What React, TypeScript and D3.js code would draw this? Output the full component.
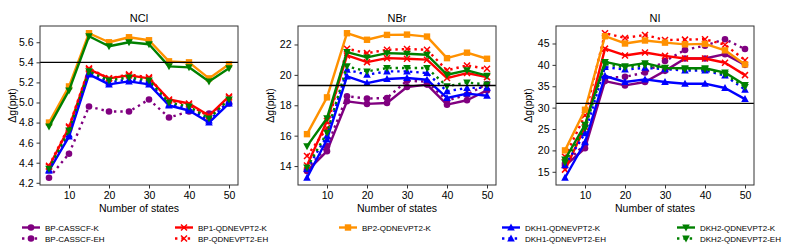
import React, { useEffect, useRef } from 'react';
import * as d3 from 'd3';

// x values (number of states)
const states = [5, 10, 15, 20, 25, 30, 35, 40, 45, 50];
const xTicks = [10, 20, 30, 40, 50];

// NCl
const nclCasscfEH = [4.25, 4.49, 4.96, 4.91, 4.91, 5.03, 4.85, 4.91, 4.89, 4.99];
const nclBP1K = [4.36, 4.75, 5.33, 5.24, 5.27, 5.24, 5.03, 4.99, 4.87, 5.06];
const nclBPEH = [4.37, 4.76, 5.34, 5.24, 5.28, 5.25, 5.02, 4.98, 4.86, 5.05];
const nclBP2K = [4.80, 5.16, 5.69, 5.60, 5.65, 5.62, 5.41, 5.40, 5.24, 5.38];
const nclDKH1K = [4.32, 4.66, 5.28, 5.18, 5.21, 5.18, 4.97, 4.92, 4.80, 4.99];
const nclDKH1EH = [4.33, 4.68, 5.30, 5.20, 5.23, 5.20, 4.98, 4.94, 4.82, 5.01];
const nclDKH2K = [4.76, 5.12, 5.66, 5.56, 5.60, 5.58, 5.36, 5.35, 5.21, 5.34];
const nclDKH2EH = [4.34, 4.72, 5.31, 5.22, 5.25, 5.22, 5.00, 4.96, 4.84, 5.03];
const nclRef = 5.4;

// NBr
const nbrCasscfK = [13.67, 14.98, 18.26, 18.09, 18.15, 19.20, 19.36, 18.04, 18.33, 18.98];
const nbrCasscfEH = [13.75, 15.30, 18.59, 18.44, 18.48, 19.62, 19.55, 18.30, 18.70, 19.40];
const nbrBP1K = [14.04, 16.96, 21.28, 20.84, 21.10, 21.06, 21.00, 19.79, 20.12, 19.85];
const nbrBPEH = [14.66, 16.50, 21.72, 21.43, 21.65, 21.70, 21.65, 20.30, 20.62, 20.40];
const nbrBP2K = [16.10, 18.52, 22.74, 22.31, 22.63, 22.65, 22.52, 21.10, 21.46, 21.06];
const nbrDKH1K = [13.23, 15.75, 19.90, 19.46, 19.73, 19.79, 19.68, 18.48, 18.77, 18.63];
const nbrDKH1EH = [13.80, 16.00, 20.34, 20.01, 20.23, 20.23, 20.12, 18.92, 19.14, 19.15];
const nbrDKH2K = [15.31, 17.15, 21.50, 21.15, 21.43, 21.39, 21.32, 20.01, 20.30, 19.95];
const nbrDKH2EH = [13.90, 16.20, 20.56, 20.23, 20.45, 20.45, 20.45, 19.25, 19.50, 19.36];
const nbrRef = 19.3;

// NI
const niCasscfK = [16.4, 20.5, 36.2, 35.2, 36.0, 38.6, 41.5, 41.5, 42.5, 40.0];
const niCasscfEH = [16.9, 21.5, 37.0, 37.2, 38.2, 40.9, 43.5, 44.5, 46.0, 43.7];
const niBP1K = [15.5, 25.5, 43.8, 42.2, 42.9, 42.1, 41.5, 41.5, 40.5, 37.6];
const niBPEH = [18.5, 28.2, 47.4, 46.3, 47.0, 45.8, 45.9, 46.0, 44.7, 41.1];
const niBP2K = [20.0, 29.5, 46.7, 45.0, 45.7, 45.2, 44.8, 44.9, 43.4, 40.1];
const niDKH1K = [13.6, 21.9, 37.4, 36.0, 36.6, 36.0, 35.6, 35.6, 34.6, 32.0];
const niDKH1EH = [16.5, 24.0, 39.5, 38.9, 39.3, 39.0, 38.7, 38.7, 37.5, 34.2];
const niDKH2K = [17.9, 26.0, 40.7, 39.7, 40.4, 39.3, 39.2, 39.2, 38.2, 35.3];
const niDKH2EH = [17.2, 25.2, 40.2, 39.4, 39.9, 39.2, 39.0, 39.0, 37.8, 34.8];
const niRef = 31.0;

const series = [
  { key: 'casscfK', label: 'BP-CASSCF-K', color: '#800080', marker: 'circle', dotted: false },
  { key: 'casscfEH', label: 'BP-CASSCF-EH', color: '#800080', marker: 'circle', dotted: true },
  { key: 'bp1K', label: 'BP1-QDNEVPT2-K', color: '#ff0000', marker: 'x', dotted: false },
  { key: 'bpEH', label: 'BP-QDNEVPT2-EH', color: '#ff0000', marker: 'x', dotted: true },
  { key: 'bp2K', label: 'BP2-QDNEVPT2-K', color: '#ff9100', marker: 'square', dotted: false },
  { key: 'dkh1K', label: 'DKH1-QDNEVPT2-K', color: '#0000ff', marker: 'up', dotted: false },
  { key: 'dkh1EH', label: 'DKH1-QDNEVPT2-EH', color: '#0000ff', marker: 'up', dotted: true },
  { key: 'dkh2K', label: 'DKH2-QDNEVPT2-K', color: '#008000', marker: 'down', dotted: false },
  { key: 'dkh2EH', label: 'DKH2-QDNEVPT2-EH', color: '#008000', marker: 'down', dotted: true },
];

const panels = [
  {
    title: 'NCl', left: 40, yTicks: [4.2, 4.4, 4.6, 4.8, 5.0, 5.2, 5.4, 5.6], fmt: d3.format('.1f'), ref: nclRef,
    data: { casscfEH: nclCasscfEH, bp1K: nclBP1K, bpEH: nclBPEH, bp2K: nclBP2K, dkh1K: nclDKH1K, dkh1EH: nclDKH1EH, dkh2K: nclDKH2K, dkh2EH: nclDKH2EH },
  },
  {
    title: 'NBr', left: 298, yTicks: [14, 16, 18, 20, 22], fmt: d3.format('d'), ref: nbrRef,
    data: { casscfK: nbrCasscfK, casscfEH: nbrCasscfEH, bp1K: nbrBP1K, bpEH: nbrBPEH, bp2K: nbrBP2K, dkh1K: nbrDKH1K, dkh1EH: nbrDKH1EH, dkh2K: nbrDKH2K, dkh2EH: nbrDKH2EH },
  },
  {
    title: 'NI', left: 556, yTicks: [15, 20, 25, 30, 35, 40, 45], fmt: d3.format('d'), ref: niRef,
    data: { casscfK: niCasscfK, casscfEH: niCasscfEH, bp1K: niBP1K, bpEH: niBPEH, bp2K: niBP2K, dkh1K: niDKH1K, dkh1EH: niDKH1EH, dkh2K: niDKH2K, dkh2EH: niDKH2EH },
  },
];

// legend slots: [x of line start, row]
const legendPos: Record<string, [number, number]> = {
  casscfK: [22, 0], casscfEH: [22, 1],
  bp1K: [175, 0], bpEH: [175, 1],
  bp2K: [339, 0],
  dkh1K: [502, 0], dkh1EH: [502, 1],
  dkh2K: [677, 0], dkh2EH: [677, 1],
};

const FONT = '"Liberation Sans", Arial, sans-serif';
const LW = 2.4;

function drawMarker(g: any, kind: string, x: number, y: number, color: string) {
  if (kind === 'circle') {
    g.append('circle').attr('cx', x).attr('cy', y).attr('r', 3.3).attr('fill', color);
  } else if (kind === 'square') {
    g.append('rect').attr('x', x - 3.2).attr('y', y - 3.2).attr('width', 6.4).attr('height', 6.4).attr('fill', color);
  } else if (kind === 'up') {
    g.append('path').attr('d', `M${x},${y - 4}L${x + 3.8},${y + 3}L${x - 3.8},${y + 3}Z`).attr('fill', color);
  } else if (kind === 'down') {
    g.append('path').attr('d', `M${x},${y + 4}L${x + 3.8},${y - 3}L${x - 3.8},${y - 3}Z`).attr('fill', color);
  } else {
    g.append('path').attr('d', `M${x - 3},${y - 3}L${x + 3},${y + 3}M${x - 3},${y + 3}L${x + 3},${y - 3}`)
      .attr('stroke', color).attr('stroke-width', 1.5).attr('fill', 'none');
  }
}

const App = () => {
  const svgRef = useRef<SVGSVGElement>(null);

  useEffect(() => {
    const svg = d3.select(svgRef.current);
    svg.selectAll('*').remove();

    const width = 198;
    const top = 26;
    const bottom = 185;

    panels.forEach((p) => {
      const x = d3.scaleLinear().domain([2.75, 52.25]).range([p.left, p.left + width]);
      const vals = Object.values(p.data).flat() as number[];
      const [lo, hi] = d3.extent(vals) as [number, number];
      const pad = (hi - lo) * 0.05;
      const y = d3.scaleLinear().domain([lo - pad, hi + pad]).range([bottom, top]);

      const g = svg.append('g');
      const clipId = `clip-${p.title}`;
      svg.append('clipPath').attr('id', clipId)
        .append('rect').attr('x', p.left).attr('y', top).attr('width', width).attr('height', bottom - top);

      const plot = g.append('g').attr('clip-path', `url(#${clipId})`);

      series.forEach((s) => {
        const values = (p.data as any)[s.key] as number[] | undefined;
        if (!values) return;
        const pts = states.map((st, i) => [x(st), y(values[i])] as [number, number]);
        plot.append('path')
          .attr('d', d3.line()(pts))
          .attr('fill', 'none')
          .attr('stroke', s.color)
          .attr('stroke-width', LW)
          .attr('stroke-linejoin', 'round')
          .attr('stroke-dasharray', s.dotted ? `${LW} ${LW * 1.65}` : null);
        pts.forEach(([px, py]) => drawMarker(plot, s.marker, px, py, s.color));
      });

      // reference line
      plot.append('line')
        .attr('x1', p.left).attr('x2', p.left + width)
        .attr('y1', y(p.ref)).attr('y2', y(p.ref))
        .attr('stroke', '#000').attr('stroke-width', 1.3);

      // frame
      g.append('rect')
        .attr('x', p.left).attr('y', top).attr('width', width).attr('height', bottom - top)
        .attr('fill', 'none').attr('stroke', '#333').attr('stroke-width', 1);

      const xAxis = g.append('g')
        .attr('transform', `translate(0,${bottom})`)
        .call(d3.axisBottom(x).tickValues(xTicks).tickSize(3.5).tickPadding(3));
      const yAxis = g.append('g')
        .attr('transform', `translate(${p.left},0)`)
        .call(d3.axisLeft(y).tickValues(p.yTicks).tickFormat(p.fmt as any).tickSize(3.5).tickPadding(3));
      [xAxis, yAxis].forEach((a) => {
        a.select('.domain').remove();
        a.selectAll('line').attr('stroke', '#333');
        a.selectAll('text').attr('font-family', FONT).attr('font-size', 10.5).attr('fill', '#000');
      });

      g.append('text')
        .attr('x', p.left + width / 2).attr('y', 22)
        .attr('text-anchor', 'middle')
        .attr('font-family', FONT).attr('font-size', 11)
        .text(p.title);

      g.append('text')
        .attr('x', p.left + width / 2).attr('y', 212)
        .attr('text-anchor', 'middle')
        .attr('font-family', FONT).attr('font-size', 10.5)
        .text('Number of states');

      g.append('text')
        .attr('transform', `translate(${p.left - 27},${(top + bottom) / 2}) rotate(-90)`)
        .attr('text-anchor', 'middle')
        .attr('dominant-baseline', 'middle')
        .attr('font-family', FONT).attr('font-size', 10.5)
        .text('Δg(ppt)');
    });

    // legend
    const leg = svg.append('g');
    series.forEach((s) => {
      const [lx, row] = legendPos[s.key];
      const ly = row === 0 ? 227.5 : 238.5;
      leg.append('line')
        .attr('x1', lx).attr('x2', lx + 18).attr('y1', ly).attr('y2', ly)
        .attr('stroke', s.color).attr('stroke-width', LW)
        .attr('stroke-dasharray', s.dotted ? `${LW} ${LW * 1.65}` : null);
      drawMarker(leg, s.marker, lx + 9, ly, s.color);
      leg.append('text')
        .attr('x', lx + 23).attr('y', ly + 3)
        .attr('font-family', FONT).attr('font-size', 8)
        .text(s.label);
    });
  }, []);

  return (
    <svg ref={svgRef} width={793} height={247}
      style={{ position: 'absolute', left: 0, top: 0, background: '#fff' }} />
  );
};

export default App;
